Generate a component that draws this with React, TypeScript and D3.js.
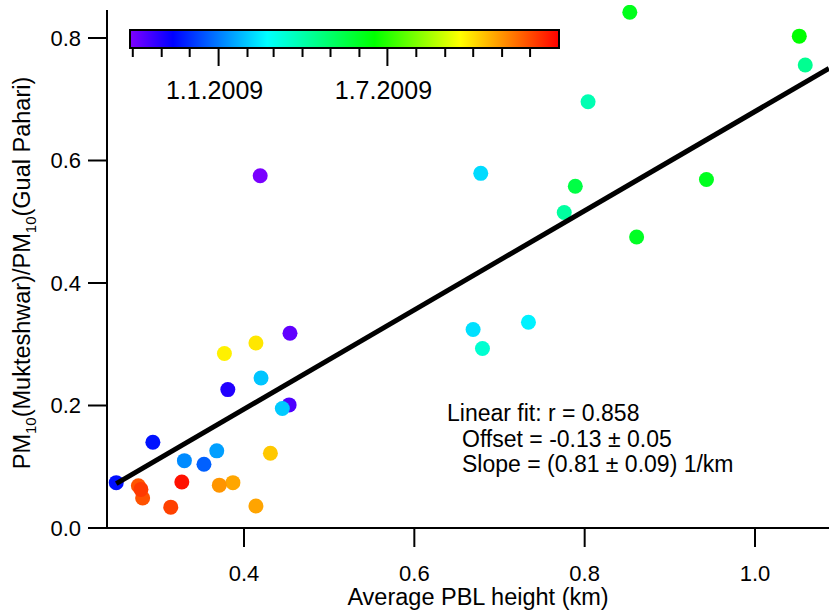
import React from "react";
import * as d3 from "d3";

// ---- data ----
const sampleDates = [
  "2008-09-30", "2008-10-09", "2008-10-16", "2008-11-01", "2008-11-19", "2008-11-20",
  "2008-12-21", "2009-01-07", "2009-01-15", "2009-01-30", "2009-02-01", "2009-02-08",
  "2009-02-10", "2009-02-17", "2009-03-15", "2009-03-29", "2009-04-06", "2009-04-13",
  "2009-05-17", "2009-06-01", "2009-06-03", "2009-06-05", "2009-06-17", "2009-09-23",
  "2009-09-27", "2009-10-10", "2009-10-24", "2009-10-25", "2009-10-31", "2009-11-27",
  "2009-11-28", "2009-12-05", "2009-12-08", "2009-12-25",
];
const pblHeight = [
  0.419, 0.454, 0.453, 0.381, 0.250, 0.293,
  0.353, 0.330, 0.368, 0.420, 0.445, 0.678,
  0.669, 0.734, 0.680, 0.804, 0.776, 1.059,
  0.789, 0.861, 0.943, 0.853, 1.052, 0.377,
  0.414, 0.431, 0.387, 0.414, 0.371, 0.276,
  0.281, 0.314, 0.279, 0.327,
];
const pmRatio = [
  0.575, 0.318, 0.201, 0.226, 0.074, 0.140,
  0.104, 0.110, 0.126, 0.245, 0.195, 0.579,
  0.324, 0.336, 0.293, 0.696, 0.515, 0.756,
  0.558, 0.475, 0.569, 0.842, 0.803, 0.285,
  0.302, 0.122, 0.074, 0.036, 0.070, 0.069,
  0.049, 0.034, 0.063, 0.075,
];
const xTicks = [0.4, 0.6, 0.8, 1.0];
const yTicks = [0.0, 0.2, 0.4, 0.6, 0.8];
const colorStops = [0, 0.1, 0.32, 0.57, 0.77, 1];
const colorValues = ["#8000ff", "#0000ff", "#00ffff", "#00ff00", "#ffff00", "#ff0000"];
const colorbarDomain = ["2008-09-28", "2010-01-01"];
const colorbarLabels = ["2009-01-01", "2009-07-01"];
const fitOffset = -0.13;
const fitSlope = 0.81;
const fitText = ["Linear fit: r = 0.858", "Offset = -0.13 ± 0.05", "Slope = (0.81 ± 0.09) 1/km"];

const W = 829;
const H = 610;
const FONT = "'Liberation Sans', Arial, Helvetica, sans-serif";

export default function App() {
  const parse = d3.utcParse("%Y-%m-%d");
  const left = 107, right = 829, top = 10, bottom = 528;
  const x = d3.scaleLinear().domain([0.4, 1.0]).range([244, 755]);
  const y = d3.scaleLinear().domain([0, 0.8]).range([528, 38]);
  const tScale = d3.scaleUtc().domain(colorbarDomain.map((s) => parse(s)!)).range([0, 1]);
  const cmap = d3.scaleLinear<string>().domain(colorStops).range(colorValues).interpolate(d3.interpolateRgb);

  const cbX0 = 130, cbX1 = 559, cbY0 = 30, cbY1 = 48;
  const cbScale = d3.scaleUtc().domain(colorbarDomain.map((s) => parse(s)!)).range([cbX0, cbX1]);
  const monthTicks = d3.utcMonth.range(parse("2008-10-01")!, parse("2010-01-01")!);
  const majorSet = new Set(colorbarLabels);
  const fmt = (d: Date) => `${d.getUTCDate()}.${d.getUTCMonth() + 1}.${d.getUTCFullYear()}`;

  const pts = sampleDates.map((s, i) => ({ d: parse(s)!, x: pblHeight[i], y: pmRatio[i] }));
  const xMin = d3.min(pblHeight)!;
  const xMax = x.invert(right);
  const fitLine = d3.line<number>().x((v) => x(v)).y((v) => y(fitOffset + fitSlope * v));

  const tickFs = 22;
  const titleFs = 23.5;

  return (
    <svg width={W} height={H} style={{ position: "absolute", left: 0, top: 0, background: "#fff" }} fontFamily={FONT}>
      <defs>
        <linearGradient id="cb" x1="0" x2="1" y1="0" y2="0">
          {colorStops.map((o, i) => (
            <stop key={i} offset={o} stopColor={colorValues[i]} />
          ))}
        </linearGradient>
        <clipPath id="plot">
          <rect x={left} y={5} width={right - left} height={bottom - 5} />
        </clipPath>
      </defs>

      {/* colorbar */}
      <rect x={cbX0} y={cbY0} width={cbX1 - cbX0} height={cbY1 - cbY0} fill="url(#cb)" stroke="#000" strokeWidth={2} />
      {monthTicks.map((d, i) => {
        const key = d3.utcFormat("%Y-%m-%d")(d);
        const major = majorSet.has(key);
        return (
          <line key={i} x1={cbScale(d)} x2={cbScale(d)} y1={cbY1} y2={cbY1 + (major ? 18 : 9)} stroke="#000" strokeWidth={2} />
        );
      })}
      {colorbarLabels.map((s, i) => (
        <text key={i} x={cbScale(parse(s)!) - 4} y={99} textAnchor="middle" fontSize={25}>
          {fmt(parse(s)!)}
        </text>
      ))}

      {/* points */}
      <g clipPath="url(#plot)">
        {pts.map((p, i) => (
          <circle key={i} cx={x(p.x)} cy={y(p.y)} r={7.5} fill={cmap(tScale(p.d))} />
        ))}
        <path d={fitLine([xMin, xMax]) || ""} stroke="#000" strokeWidth={5} fill="none" />
      </g>

      {/* axes */}
      <line x1={left} x2={left} y1={top} y2={bottom} stroke="#000" strokeWidth={2} />
      <line x1={left} x2={right} y1={bottom} y2={bottom} stroke="#000" strokeWidth={2} />
      {yTicks.map((v, i) => (
        <g key={i}>
          <line x1={left - 19} x2={left} y1={y(v)} y2={y(v)} stroke="#000" strokeWidth={2} />
          <text x={81} y={y(v)} dy="0.36em" textAnchor="end" fontSize={tickFs}>
            {d3.format(".1f")(v)}
          </text>
        </g>
      ))}
      {xTicks.map((v, i) => (
        <g key={i}>
          <line x1={x(v)} x2={x(v)} y1={bottom} y2={bottom + 19} stroke="#000" strokeWidth={2} />
          <text x={x(v)} y={581} textAnchor="middle" fontSize={tickFs}>
            {d3.format(".1f")(v)}
          </text>
        </g>
      ))}
      <text x={478} y={605} textAnchor="middle" fontSize={titleFs}>
        Average PBL height (km)
      </text>
      <text transform={`translate(30,273) rotate(-90)`} textAnchor="middle" fontSize={titleFs}>
        PM<tspan fontSize={15} dy={6}>10</tspan>
        <tspan dy={-6}>(Mukteshwar)/PM</tspan>
        <tspan fontSize={15} dy={6}>10</tspan>
        <tspan dy={-6}>(Gual Pahari)</tspan>
      </text>

      {/* fit annotation */}
      {fitText.map((t, i) => (
        <text key={i} x={i === 0 ? 447 : 462} y={421 + i * 25.5} fontSize={23}>
          {t}
        </text>
      ))}
    </svg>
  );
}
